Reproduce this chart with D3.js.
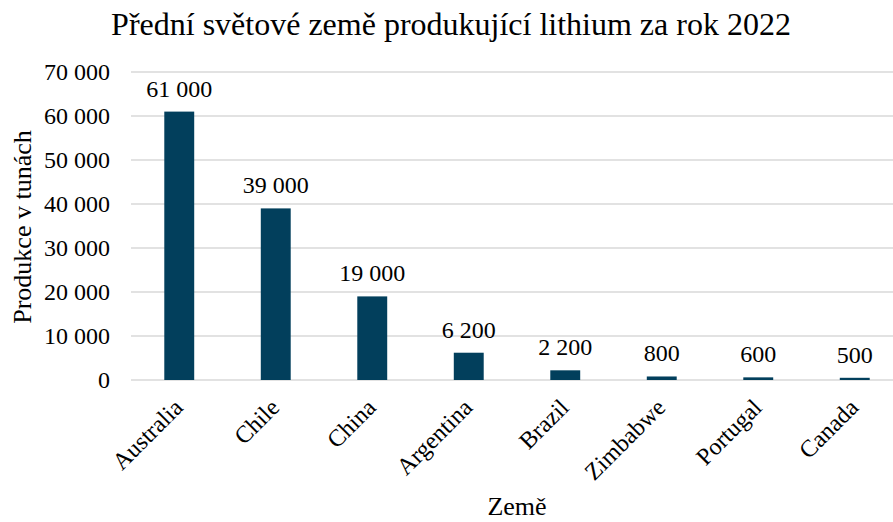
<!DOCTYPE html>
<html>
<head>
<meta charset="utf-8">
<script src="https://cdn.jsdelivr.net/npm/d3@7"></script>
<style>
  body { margin: 0; background: #fff; }
  svg { display: block; }
</style>
</head>
<body>
<svg id="chart" width="893" height="522"></svg>
<script>
'use strict';

var countries = ['Australia', 'Chile', 'China', 'Argentina', 'Brazil', 'Zimbabwe', 'Portugal', 'Canada']
var production = [61000, 39000, 19000, 6200, 2200, 800, 600, 500]
var yTicks = [0, 10000, 20000, 30000, 40000, 50000, 60000, 70000]

var titleText = 'Přední světové země produkující lithium za rok 2022'
var yTitle = 'Produkce v tunách'
var xTitle = 'Země'

var FONT = 'Liberation Serif'
var svg = d3.select('#chart')
var margin = { left: 131, right: -10, top: 72, bottom: 142 }
var width = 893 - margin.left - margin.right
var height = 522 - margin.top - margin.bottom
var barColor = '#023f5c'

function fmt(v) {
    return d3.format(',')(v).replace(/,/g, ' ')
}

var x = d3.scaleBand()
    .domain(countries)
    .range([0, width])
    .paddingInner(0.69)
    .paddingOuter(0.345)

var y = d3.scaleLinear()
    .domain([0, 70000])
    .range([height, 0])

var g = svg.append('g')
    .attr('transform', 'translate(' + margin.left + ',' + margin.top + ')')

// gridlines
g.append('g')
    .selectAll('line')
    .data(yTicks)
    .enter().append('line')
    .attr('x1', 0)
    .attr('x2', width)
    .attr('y1', function(d) { return y(d) })
    .attr('y2', function(d) { return y(d) })
    .attr('stroke', '#d9d9d9')
    .attr('stroke-width', 1.5)

// y axis labels
var yAxis = g.append('g')
    .call(d3.axisLeft(y).tickValues(yTicks).tickFormat(fmt).tickSize(0).tickPadding(21))
yAxis.attr('font-family', FONT).attr('font-size', 24)
yAxis.select('.domain').remove()
yAxis.selectAll('text').attr('fill', '#000')

// bars
g.append('g')
    .selectAll('rect')
    .data(countries)
    .enter().append('rect')
    .attr('x', function(d) { return x(d) })
    .attr('width', x.bandwidth())
    .attr('y', function(d, i) { return y(production[i]) })
    .attr('height', function(d, i) { return height - y(production[i]) })
    .attr('fill', barColor)

// data labels
g.append('g')
    .attr('font-family', FONT)
    .attr('font-size', 24)
    .selectAll('text')
    .data(countries)
    .enter().append('text')
    .attr('x', function(d) { return x(d) + x.bandwidth() / 2 })
    .attr('y', function(d, i) { return y(production[i]) - 15 })
    .attr('text-anchor', 'middle')
    .text(function(d, i) { return fmt(production[i]) })

// x axis labels
var xAxis = g.append('g')
    .attr('transform', 'translate(0,' + height + ')')
    .call(d3.axisBottom(x).tickSize(0).tickPadding(0))
xAxis.attr('font-family', FONT).attr('font-size', 24)
xAxis.select('.domain').remove()
xAxis.selectAll('text')
    .attr('fill', '#000')
    .attr('text-anchor', 'end')
    .attr('dy', 0)
    .attr('y', 0)
    .attr('transform', 'translate(5,29) rotate(-45)')

// titles
svg.append('text')
    .attr('x', 451)
    .attr('y', 35)
    .attr('text-anchor', 'middle')
    .attr('font-family', FONT)
    .attr('font-size', 32)
    .text(titleText)

svg.append('text')
    .attr('transform', 'translate(31,227) rotate(-90)')
    .attr('text-anchor', 'middle')
    .attr('font-family', FONT)
    .attr('font-size', 26)
    .text(yTitle)

svg.append('text')
    .attr('x', 517)
    .attr('y', 515)
    .attr('text-anchor', 'middle')
    .attr('font-family', FONT)
    .attr('font-size', 26)
    .text(xTitle)
</script>
</body>
</html>
